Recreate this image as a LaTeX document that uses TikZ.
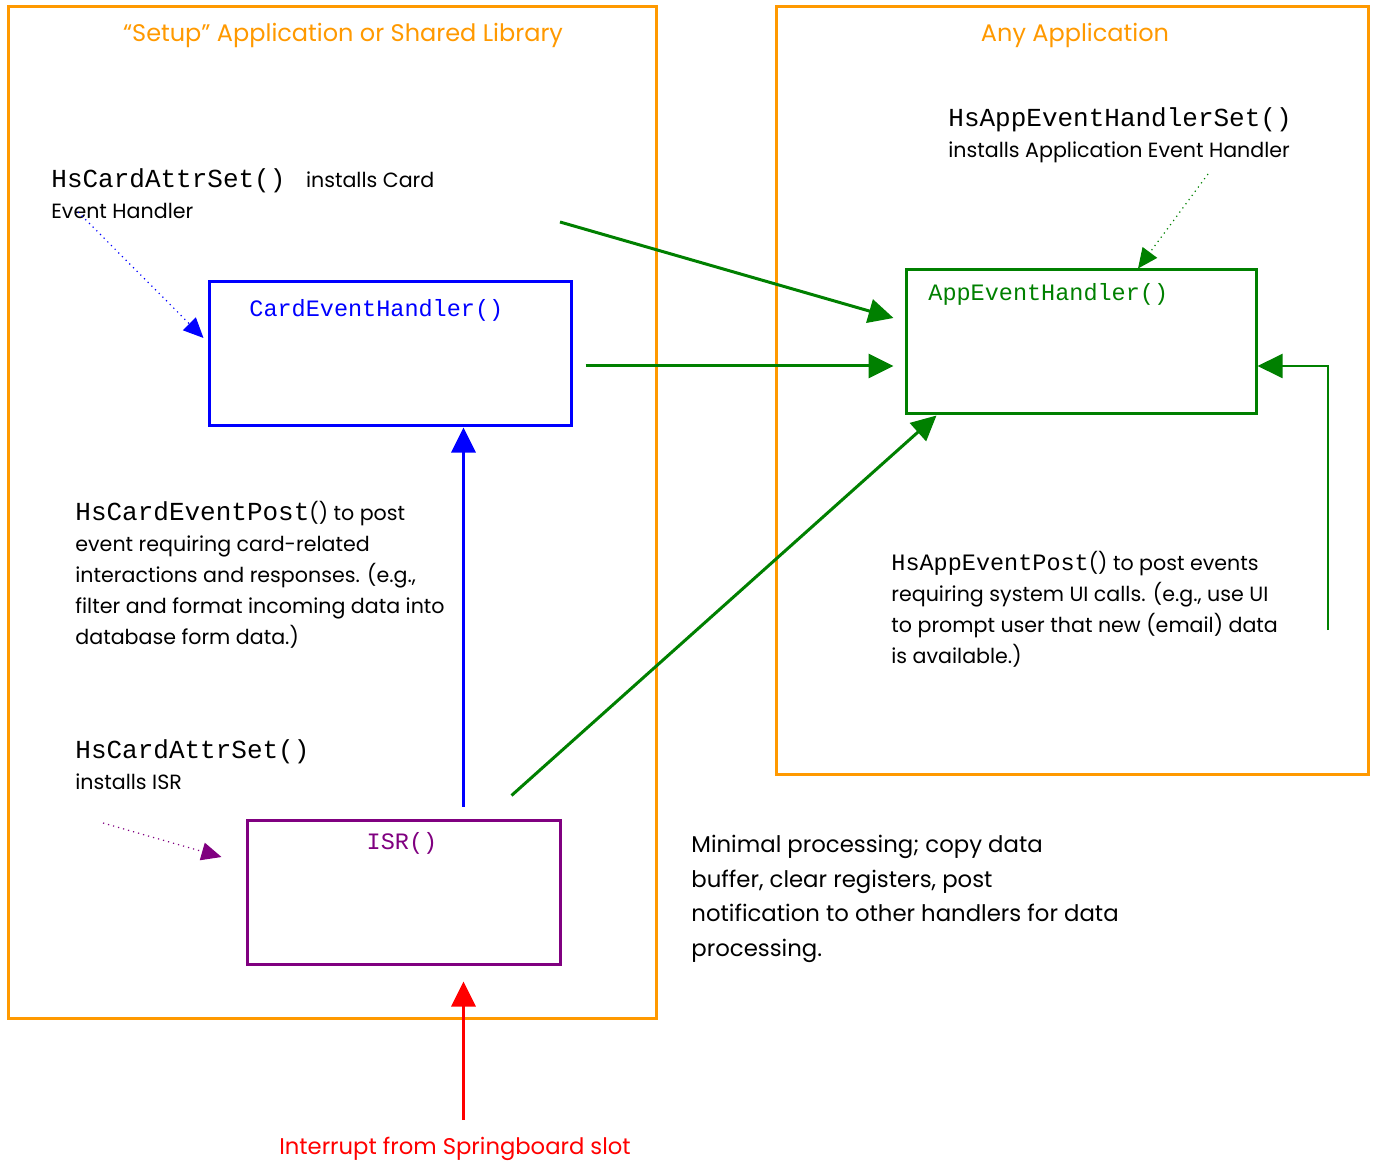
\documentclass[tikz,border=0pt]{standalone}
\usepackage{fontspec}
\setmainfont{Poppins}
\setmonofont{Liberation Mono}
\usetikzlibrary{arrows.meta}

\definecolor{frameorange}{RGB}{255,153,0}
\definecolor{hgreen}{RGB}{0,128,0}
\definecolor{hpurple}{RGB}{128,0,128}
\newcommand{\fnbig}[1]{{\fontsize{13}{15.5}\selectfont\ttfamily #1}}
\newcommand{\fnsmall}[1]{{\fontsize{11.75}{15.5}\selectfont\ttfamily #1}}

\begin{document}
\begin{tikzpicture}[x=0.5pt, y=-0.5pt,
    frame/.style={draw=frameorange, line width=1.5pt},
    title/.style={text=frameorange, font=\fontsize{12}{14}\selectfont, inner sep=0pt},
    handler/.style={draw, line width=1.5pt, minimum height=72pt, inner sep=0pt},
    code/.style={font=\fontsize{11.75}{14}\selectfont\ttfamily, inner sep=0pt},
    note/.style={anchor=north west, align=left, inner sep=0pt, font=\fontsize{10.3}{15.5}\selectfont},
    arrow/.style={-{Triangle[length=12.5pt, width=12pt]}, line width=1.5pt},
    hint/.style={-{Triangle[length=10pt, width=9pt]}, line width=0.6pt, dotted}
]
    \useasboundingbox (0,0) rectangle (1374,1165);

    % the two programs
    \draw[frame] (8,7) rectangle (656,1018);
    \draw[frame] (776,7) rectangle (1368,774);
    \node[title] (setup) at (343,35) {“Setup” Application or Shared Library};
    \node[title] (anyapp) at (1075,35) {Any Application};

    % handlers
    \node[handler, draw=blue, minimum width=181pt] (card) at (390,354) {};
    \node[handler, draw=hgreen, minimum width=175pt] (app) at (1081,342) {};
    \node[handler, draw=hpurple, minimum width=156.5pt] (isr) at (403.5,892) {};
    \node[code, text=blue, anchor=west] (cardname) at (249,310) {CardEventHandler()};
    \node[code, text=hgreen, anchor=west] (appname) at (928,294) {AppEventHandler()};
    \node[code, text=hpurple] (isrname) at (402,843) {ISR()};

    % notes
    \node[note] (cardset) at (51,168) {\fnbig{HsCardAttrSet()}\quad installs Card\\Event Handler};
    \node[note] (appset) at (948,107) {\fnbig{HsAppEventHandlerSet()}\\installs Application Event Handler};
    \node[note] (cardpost) at (75,501) {\fnbig{HsCardEventPost}() to post\\event requiring card-related\\interactions and responses. (e.g.,\\filter and format incoming data into\\database form data.)};
    \node[note] (isrset) at (75,739) {\fnbig{HsCardAttrSet()}\\installs ISR};
    \node[note] (apppost) at (891,551) {\fnsmall{HsAppEventPost}() to post events\\requiring system UI calls. (e.g., use UI\\to prompt user that new (email) data\\is available.)};
    \node[note, font=\fontsize{11.4}{17.25}\selectfont] (minimal) at (691,835) {Minimal processing; copy data\\buffer, clear registers, post\\notification to other handlers for data\\processing.};
    \node[title, text=red, font=\fontsize{11.35}{14}\selectfont] (interrupt) at (455,1149) {Interrupt from Springboard slot};

    % free ends
    \coordinate (cardhint) at (78,212);
    \coordinate (apphint) at (1208,174);
    \coordinate (isrhint) at (103,823);
    \coordinate (install) at (560,222);
    \coordinate (uipost) at (1328,630);
    \coordinate (slot) at (463.5,1120);

    % connectors
    \draw[hint, blue] (cardhint) -- ([xshift=-2pt, yshift=8pt]card.west);
    \draw[hint, hgreen] (apphint) -- ([xshift=28.5pt]app.north);
    \draw[hint, hpurple] (isrhint) -- ([xshift=-12pt, yshift=17.5pt]isr.west);
    \draw[arrow, hgreen] (install) -- ([xshift=-5.5pt, yshift=12pt]app.west);
    \draw[arrow, hgreen] ([xshift=6.5pt, yshift=-6pt]card.east) -- ([xshift=-5.5pt, yshift=-12pt]app.west);
    \draw[arrow, hgreen] ([xshift=54pt, yshift=11.5pt]isr.north) -- ([xshift=16pt]app.south west);
    \draw[arrow, blue] ([xshift=30pt, yshift=6pt]isr.north) -- ([xshift=36.75pt]card.south);
    \draw[arrow, hgreen, line width=1pt] (uipost) |- ([yshift=-12pt]app.east);
    \draw[arrow, red] (slot) -- ([xshift=30pt, yshift=-8pt]isr.south);
\end{tikzpicture}
\end{document}
